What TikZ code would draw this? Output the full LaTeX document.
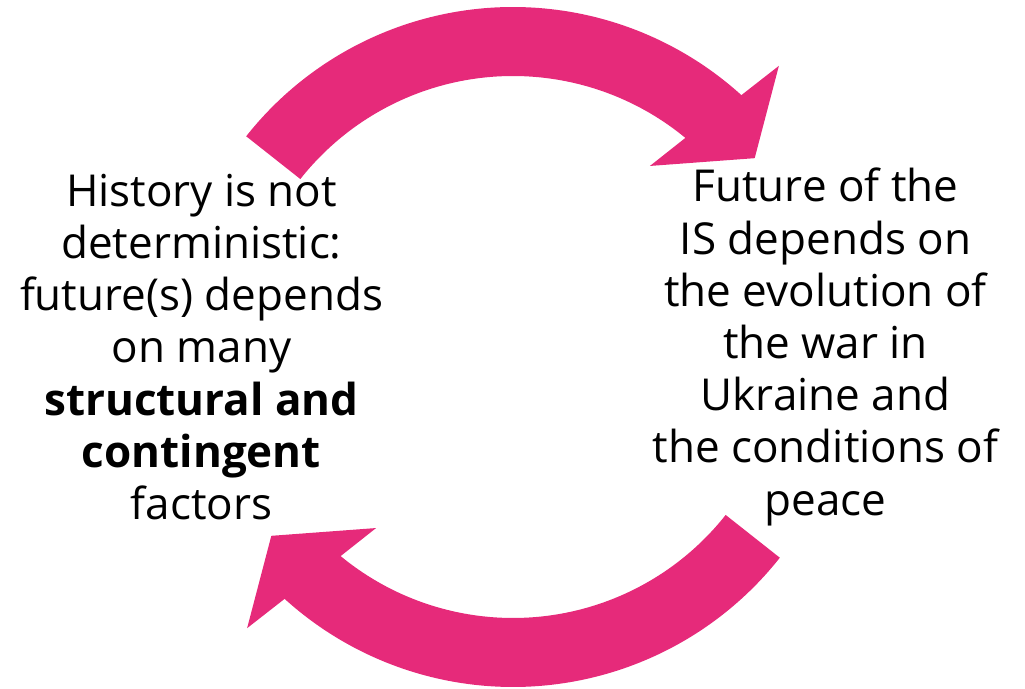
\documentclass[tikz,border=0pt]{standalone}
\usepackage{fontspec}
\setmainfont{Open Sans}
\definecolor{cyclepink}{RGB}{230,42,122}

\begin{document}
\begin{tikzpicture}[x=1pt,y=1pt]
\tikzstyle{txt} = [align=center, inner sep=0pt, font=\fontsize{44}{52.2}\selectfont]
\tikzstyle{cyc} = [fill=cyclepink]

\useasboundingbox (0,0) rectangle (1025,688);
\coordinate (mid) at (513,341);

% upper arrow, left to right
\fill[cyc, shift={(mid)}] (141.7:340) arc[start angle=141.7, end angle=47.8, radius=340]
  -- (46.6:387) -- (38:306.7) -- (52.9:227) -- (50.5:271)
  arc[start angle=50.5, end angle=141.7, radius=271] -- cycle;
% lower arrow, the same turned half way round
\fill[cyc, shift={(mid)}, rotate=180] (141.7:340) arc[start angle=141.7, end angle=47.8, radius=340]
  -- (46.6:387) -- (38:306.7) -- (52.9:227) -- (50.5:271)
  arc[start angle=50.5, end angle=141.7, radius=271] -- cycle;

\node[txt] (hist) at (201.5,341) {History is not\\ deterministic:\\ future(s) depends\\ on many\\
  \textbf{structural and}\\ \textbf{contingent}\\ factors};
\node[txt] (fut) at (825.5,341) {Future of the\\ IS depends on\\ the evolution of\\ the war in\\
  Ukraine and\\ the conditions of\\ peace};
\end{tikzpicture}
\end{document}
